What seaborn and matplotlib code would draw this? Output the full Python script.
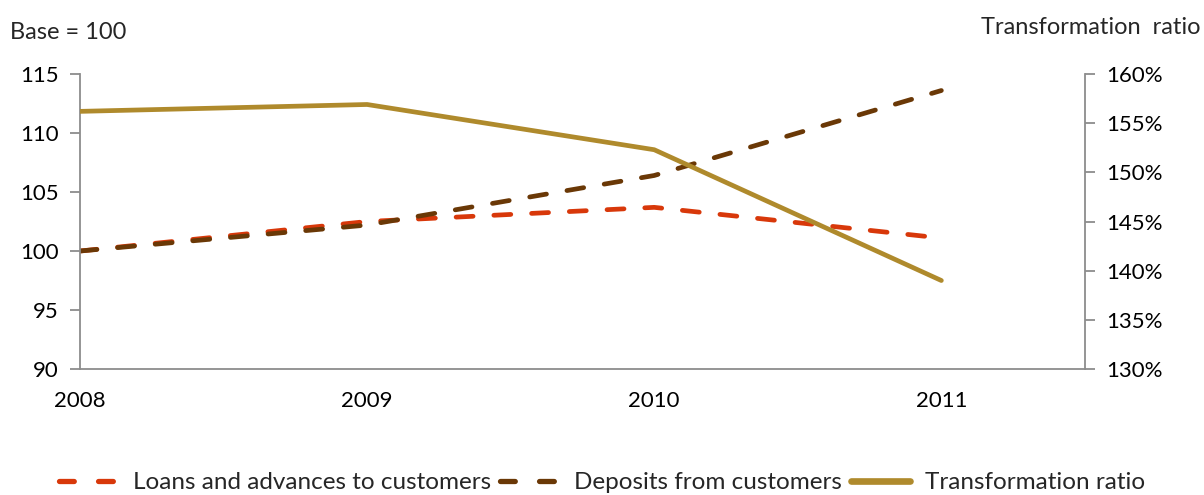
import matplotlib
matplotlib.use("Agg")
import matplotlib.pyplot as plt
import pandas as pd
import seaborn as sns
from matplotlib.lines import Line2D
from matplotlib.ticker import FuncFormatter

# Data
years = [2008, 2009, 2010, 2011]
loans = [100.0, 102.5, 103.7, 101.1]
deposits = [100.0, 102.2, 106.4, 113.6]
transformation = [156.2, 156.9, 152.3, 139.0]

df = pd.DataFrame({"year": years, "loans": loans, "deposits": deposits,
                   "ratio": transformation})

sns.set_style("white")
plt.rcParams["font.family"] = ["Lato", "DejaVu Sans"]

red = "#D8380A"
brown = "#6A3806"
gold = "#AF8A2C"
grey = "#8C8C8C"

fig = plt.figure(figsize=(12.04, 4.95), dpi=100)
ax = fig.add_axes([0.0664, 0.2545, 0.8347, 0.596])
ax2 = ax.twinx()

dash = (0, (3.6, 4.4))
sns.lineplot(data=df, x="year", y="loans", ax=ax, color=red, linewidth=3.4,
             linestyle=dash, dash_capstyle="round")
sns.lineplot(data=df, x="year", y="deposits", ax=ax, color=brown, linewidth=3.4,
             linestyle=dash, dash_capstyle="round")
sns.lineplot(data=df, x="year", y="ratio", ax=ax2, color=gold, linewidth=3.4,
             solid_capstyle="round")

ax.set_xlim(2008, 2011.5)
ax.set_ylim(90, 115)
ax.set_yticks([90, 95, 100, 105, 110, 115])
ax.set_xticks(years)
ax2.set_ylim(130, 160)
ax2.set_yticks([130, 135, 140, 145, 150, 155, 160])
ax2.yaxis.set_major_formatter(FuncFormatter(lambda v, p: f"{v:.0f}%"))

for a in (ax, ax2):
    a.set_xlabel("")
    a.set_ylabel("")
    a.spines["top"].set_visible(False)
    for s in a.spines.values():
        s.set_color(grey)
        s.set_linewidth(1.3)
    a.tick_params(colors=grey, labelcolor="black", labelsize=16, length=7,
                  width=1.3, direction="out")
ax.spines["right"].set_visible(False)
ax2.spines["left"].set_visible(False)
ax2.spines["bottom"].set_visible(False)
ax.tick_params(axis="x", pad=9)
ax.tick_params(axis="y", pad=8)
ax2.tick_params(axis="y", pad=8)

fig.text(0.008, 0.935, "Base = 100", fontsize=17, va="center", ha="left")
fig.text(0.997, 0.945, "Transformation  ratio", fontsize=17, va="center", ha="right")

handles = [
    Line2D([], [], color=red, linewidth=3.8, linestyle=(0, (2.8, 4.6)), dash_capstyle="round"),
    Line2D([], [], color=brown, linewidth=3.8, linestyle=(0, (2.8, 4.6)), dash_capstyle="round"),
    Line2D([], [], color=gold, linewidth=4.8, solid_capstyle="round"),
]
labels = ["Loans and advances to customers", "Deposits from customers",
          "Transformation ratio"]
fig.legend(handles, labels, loc="center", bbox_to_anchor=(0.5, 0.025), ncol=3,
           frameon=False, fontsize=17.5, handlelength=2.45, handletextpad=0.6,
           columnspacing=0.35)

fig.savefig("out.png", dpi=100)
